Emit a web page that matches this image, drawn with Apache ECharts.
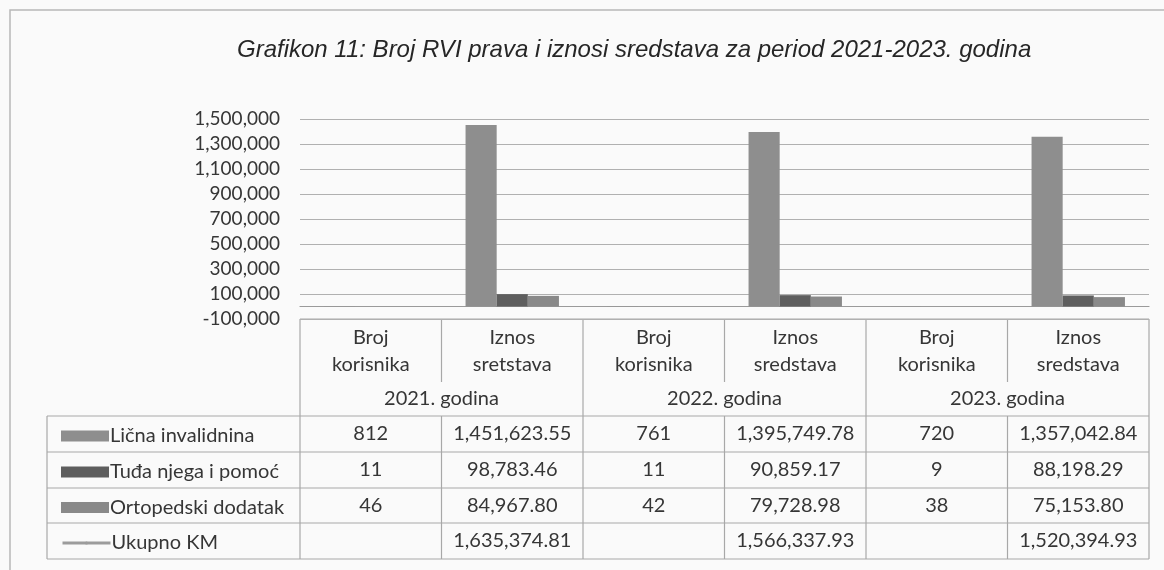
<!DOCTYPE html>
<html>
<head>
<meta charset="utf-8">
<script src="https://cdn.jsdelivr.net/npm/echarts@6/dist/echarts.min.js"></script>
<style>
  html, body { margin: 0; padding: 0; background: #fafafa; }
  #chart { width: 1164px; height: 570px; }
</style>
</head>
<body>
<div id="chart"></div>
<script>
// podaci
var categories = ['Broj\nkorisnika', 'Iznos\nsretstava', 'Broj\nkorisnika', 'Iznos\nsredstava', 'Broj\nkorisnika', 'Iznos\nsredstava'];
var years = ['2021. godina', '2022. godina', '2023. godina'];
var seriesNames = ['Lična invalidnina', 'Tuđa njega i pomoć', 'Ortopedski dodatak', 'Ukupno KM'];
var licnaInvalidnina = [812, 1451623.55, 761, 1395749.78, 720, 1357042.84];
var tudjaNjega = [11, 98783.46, 11, 90859.17, 9, 88198.29];
var ortopedskiDodatak = [46, 84967.80, 42, 79728.98, 38, 75153.80];
var ukupnoKM = [null, 1635374.81, null, 1566337.93, null, 1520394.93];
var yMin = -100000, yMax = 1500000, yStep = 200000;

var rows = [licnaInvalidnina, tudjaNjega, ortopedskiDodatak, ukupnoKM];
var barColors = ['#8e8e8e', '#5e5e5e', '#898989', '#9c9c9c'];

// raspored tabele
var gridLeft = 300, gridRightX = 1149;
var catW = (gridRightX - gridLeft) / categories.length;
var tableLeft = 47, headTop = 319, headSplit = 382;
var rowLines = [416, 452, 488, 523, 559];
var lineColor = '#a8a8a8';
var textColor = '#363636';
var font = 'Lato';

function fmt(v, dec) {
  return v.toLocaleString('en-US', {minimumFractionDigits: dec, maximumFractionDigits: dec});
}

var chart = echarts.init(document.getElementById('chart'));

var graphic = [];
// okvir
graphic.push({type: 'rect', shape: {x: 10, y: 10, width: 1170, height: 580},
  style: {fill: 'none', stroke: '#b8b8b8', lineWidth: 1.5}, silent: true});
function hline(y, x1, x2) {
  graphic.push({type: 'line', shape: {x1: x1, y1: y, x2: x2, y2: y}, style: {stroke: lineColor, lineWidth: 1.2}});
}
function vline(x, y1, y2) {
  graphic.push({type: 'line', shape: {x1: x, y1: y1, x2: x, y2: y2}, style: {stroke: lineColor, lineWidth: 1.2}});
}
hline(headTop, gridLeft, gridRightX);
rowLines.forEach(function (y) { hline(y, tableLeft, gridRightX); });
vline(tableLeft, rowLines[0], rowLines[rowLines.length - 1]);
for (var k = 0; k <= categories.length; k++) {
  var x = gridLeft + catW * k;
  if (k % 2 === 1) {
    vline(x, headTop, headSplit);
    vline(x, rowLines[0], rowLines[rowLines.length - 1]);
  } else {
    vline(x, headTop, rowLines[rowLines.length - 1]);
  }
}
years.forEach(function (y, i) {
  graphic.push({type: 'text', x: gridLeft + catW * (2 * i + 1), y: 399,
    style: {text: y, fill: textColor, font: '20px ' + font, align: 'center', verticalAlign: 'middle'}});
});
rows.forEach(function (r, ri) {
  var cy = (rowLines[ri] + rowLines[ri + 1]) / 2;
  r.forEach(function (v, ci) {
    if (v == null) return;
    graphic.push({type: 'text', x: gridLeft + catW * (ci + 0.5), y: cy,
      style: {text: fmt(v, ci % 2 ? 2 : 0), fill: textColor, font: '20px ' + font, align: 'center', verticalAlign: 'middle'}});
  });
});

var legends = seriesNames.map(function (n, i) {
  var cy = (rowLines[i] + rowLines[i + 1]) / 2;
  var leg = {
    data: [n], left: 56, top: cy - 15,
    itemWidth: 48, itemHeight: i < 3 ? 11 : 4, itemGap: 0,
    lineStyle: {width: 3},
    textStyle: {fontFamily: font, fontSize: 20, color: textColor, lineHeight: 24, padding: [0, 0, 0, -4]},
    selectedMode: false
  };
  if (i < 3) leg.icon = 'rect';
  return leg;
});

var series = rows.map(function (r, i) {
  if (i < 3) {
    return {name: seriesNames[i], type: 'bar', data: r, barGap: '0%', barCategoryGap: '34%',
      itemStyle: {color: barColors[i]}};
  }
  return {name: seriesNames[i], type: 'line', data: r, symbol: 'none', connectNulls: false,
    lineStyle: {color: barColors[i], width: 3}, itemStyle: {color: barColors[i]}};
});

chart.setOption({
  backgroundColor: '#fafafa',
  animation: false,
  title: {
    text: 'Grafikon 11: Broj RVI prava i iznosi sredstava za period 2021-2023. godina',
    left: 232, top: 33,
    textStyle: {fontFamily: 'Liberation Sans', fontStyle: 'italic', fontWeight: 'normal', fontSize: 24, color: '#262626'}
  },
  legend: legends,
  grid: {left: gridLeft, right: 1164 - gridRightX, top: 119, bottom: 570 - 319, containLabel: false},
  xAxis: {
    type: 'category', data: categories,
    axisTick: {show: false},
    axisLine: {onZero: true, lineStyle: {color: '#9a9a9a', width: 1.2}},
    axisLabel: {interval: 0, margin: 5, fontFamily: font, fontSize: 20, lineHeight: 27, color: textColor}
  },
  yAxis: {
    type: 'value', min: yMin, max: yMax, interval: yStep,
    axisLine: {show: false}, axisTick: {show: false},
    axisLabel: {margin: 20, fontFamily: font, fontSize: 19, color: textColor,
      formatter: function (v) { return fmt(v, 0); }},
    splitLine: {lineStyle: {color: '#b0b0b0', width: 1.2}}
  },
  graphic: graphic,
  series: series
});
</script>
</body>
</html>
